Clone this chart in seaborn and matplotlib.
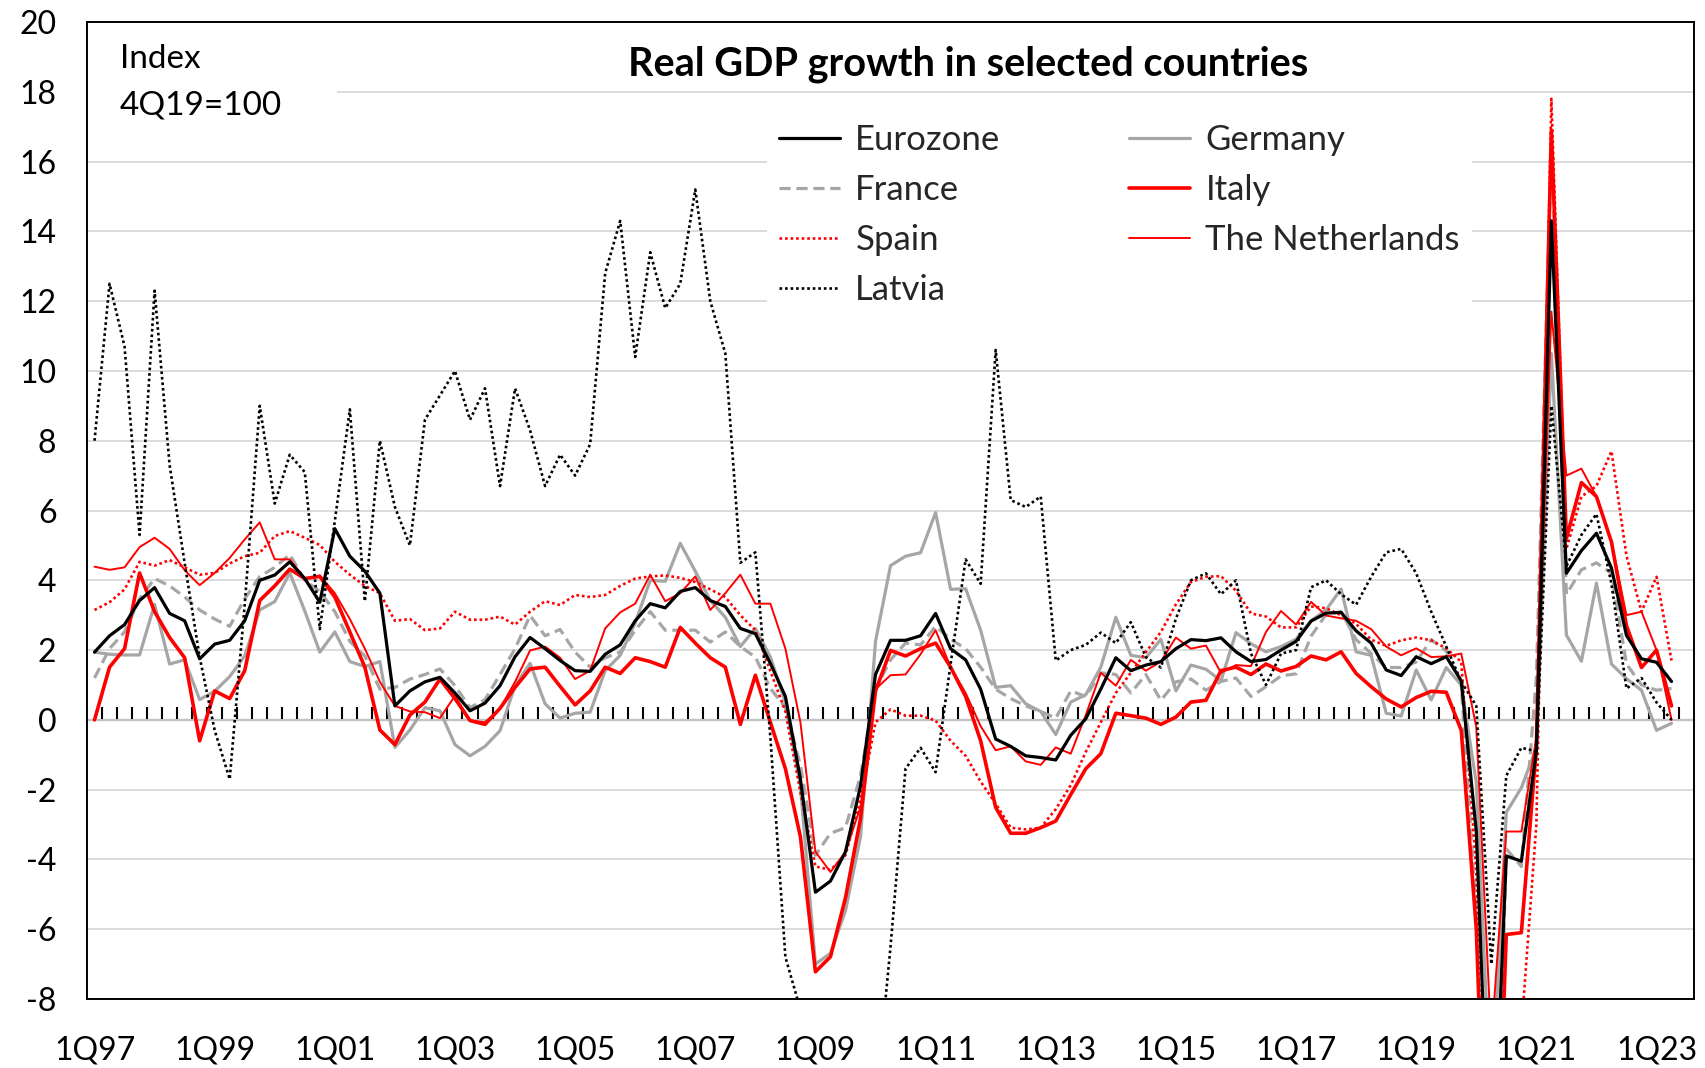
"""Real GDP growth in selected countries (y/y %, quarterly)."""

import matplotlib
matplotlib.use("Agg")

import matplotlib.pyplot as plt
import numpy as np
import pandas as pd
import seaborn as sns
from matplotlib.patches import Rectangle

# quarters 1Q97 .. 2Q23
quarters = [f"{q}Q{y % 100:02d}" for y in range(1997, 2024) for q in range(1, 5)][:106]
tick_labels = ["1Q97", "1Q99", "1Q01", "1Q03", "1Q05", "1Q07", "1Q09",
               "1Q11", "1Q13", "1Q15", "1Q17", "1Q19", "1Q21", "1Q23"]
y_ticks = [-8, -6, -4, -2, 0, 2, 4, 6, 8, 10, 12, 14, 16, 18, 20]

eurozone = [
    1.94, 2.41, 2.73, 3.42, 3.79, 3.05, 2.84, 1.75, 2.17, 2.28, 2.84, 4.0, 4.15, 4.53, 4.05, 3.37,
    5.48, 4.69, 4.26, 3.63, 0.40, 0.83, 1.09, 1.22, 0.77, 0.26, 0.48, 0.98, 1.81, 2.36, 2.04, 1.70,
    1.41, 1.39, 1.88, 2.15, 2.84, 3.33, 3.21, 3.68, 3.79, 3.42, 3.25, 2.62, 2.47, 1.62, 0.67, -1.7,
    -4.94, -4.62, -3.78, -1.9, 1.30, 2.28, 2.28, 2.41, 3.05, 2.04, 1.72, 0.88, -0.55, -0.76, -1.03, -1.08,
    -1.15, -0.44, 0.03, 0.88, 1.78, 1.41, 1.57, 1.67, 2.04, 2.30, 2.27, 2.35, 1.95, 1.67, 1.73, 2.0,
    2.25, 2.83, 3.06, 3.08, 2.55, 2.2, 1.43, 1.27, 1.81, 1.61, 1.81, 1.12, -3.2, -14.4, -3.9, -4.05,
    -0.9, 14.3, 4.2, 4.85, 5.35, 4.35, 2.42, 1.75, 1.65, 1.1,
]
germany = [
    1.94, 1.88, 1.86, 1.86, 3.31, 1.60, 1.72, 0.58, 0.82, 1.24, 1.83, 3.15, 3.39, 4.21, 3.12, 1.94,
    2.52, 1.67, 1.53, 1.67, -0.79, -0.29, 0.35, 0.26, -0.71, -1.03, -0.76, -0.31, 0.98, 1.62, 0.46, 0.05,
    0.19, 0.22, 1.41, 1.85, 2.78, 4.0, 3.97, 5.06, 4.26, 3.42, 2.94, 2.10, 2.62, 1.8, 0.5, -1.9,
    -7.0, -6.69, -5.47, -3.35, 2.25, 4.42, 4.69, 4.79, 5.94, 3.74, 3.76, 2.57, 0.93, 0.98, 0.46, 0.24,
    -0.42, 0.51, 0.72, 1.51, 2.94, 1.85, 1.78, 2.31, 0.83, 1.57, 1.45, 1.12, 2.5, 2.18, 1.95, 2.1,
    2.31, 2.84, 3.15, 3.75, 1.95, 1.85, 0.19, 0.11, 1.43, 0.57, 1.5, 1.0, -1.8, -11.2, -2.65, -1.95,
    -0.8, 10.5, 2.43, 1.68, 3.92, 1.6, 1.18, 0.85, -0.3, -0.1,
]
france = [
    1.2, 2.04, 2.52, 3.47, 4.05, 3.84, 3.52, 3.15, 2.89, 2.68, 3.47, 4.11, 4.37, 4.74, 4.0, 3.68,
    3.10, 2.25, 1.83, 0.88, 0.93, 1.17, 1.30, 1.46, 0.98, 0.35, 0.58, 1.30, 2.04, 2.99, 2.41, 2.59,
    1.94, 1.51, 1.78, 1.94, 2.57, 3.10, 2.57, 2.57, 2.57, 2.23, 2.52, 2.1, 1.8, 0.9, 0.35, -1.3,
    -3.88, -3.25, -3.09, -1.6, 0.88, 1.72, 2.20, 2.15, 2.68, 2.31, 2.04, 1.51, 0.88, 0.61, 0.40, 0.24,
    0.05, 0.83, 0.67, 1.35, 1.30, 0.77, 1.30, 0.56, 1.09, 1.17, 0.85, 1.1, 1.2, 0.67, 0.95, 1.26,
    1.32, 2.4, 3.02, 3.1, 2.3, 1.9, 1.5, 1.5, 1.66, 2.3, 1.97, 1.0, -5.6, -18.6, -3.7, -4.2,
    1.2, 16.5, 3.6, 4.3, 4.5, 4.2, 1.6, 1.0, 0.85, 0.9,
]
spain = [
    3.15, 3.37, 3.74, 4.53, 4.42, 4.58, 4.37, 4.16, 4.21, 4.48, 4.69, 4.79, 5.27, 5.41, 5.22, 5.01,
    4.53, 4.16, 3.84, 3.63, 2.84, 2.89, 2.57, 2.62, 3.10, 2.87, 2.87, 2.96, 2.73, 3.10, 3.40, 3.29,
    3.58, 3.52, 3.58, 3.84, 4.05, 4.11, 4.14, 4.07, 3.95, 3.74, 3.52, 3.0, 2.57, 1.4, 0.24, -2.08,
    -4.2, -4.3, -3.88, -2.3, -0.07, 0.30, 0.12, 0.12, -0.02, -0.6, -1.03, -1.77, -2.4, -3.09, -3.14, -3.09,
    -2.56, -1.87, -0.92, -0.07, 0.77, 1.35, 1.94, 2.52, 3.31, 3.95, 4.1, 4.12, 3.7, 3.05, 2.96, 2.65,
    2.65, 3.25, 3.2, 3.0, 2.75, 2.3, 2.12, 2.28, 2.36, 2.28, 2.05, 1.66, -4.3, -21.5, -8.7, -8.9,
    -3.0, 17.8, 4.9, 6.4, 6.7, 7.7, 4.7, 3.1, 4.1, 1.7,
]
italy = [
    0.0, 1.51, 2.04, 4.21, 3.10, 2.36, 1.78, -0.60, 0.83, 0.61, 1.41, 3.42, 3.84, 4.32, 4.05, 4.11,
    3.52, 2.52, 1.51, -0.29, -0.71, 0.14, 0.51, 1.17, 0.61, -0.02, -0.13, 0.33, 0.93, 1.46, 1.51, 0.96,
    0.43, 0.83, 1.51, 1.33, 1.78, 1.67, 1.51, 2.65, 2.20, 1.78, 1.51, -0.13, 1.28, -0.07, -1.40, -3.35,
    -7.22, -6.79, -5.10, -2.83, 0.83, 1.99, 1.83, 2.04, 2.20, 1.51, 0.67, -0.60, -2.51, -3.25, -3.25, -3.09,
    -2.9, -2.14, -1.40, -0.97, 0.19, 0.12, 0.05, -0.13, 0.08, 0.51, 0.56, 1.41, 1.51, 1.3, 1.6, 1.4,
    1.53, 1.83, 1.72, 1.95, 1.33, 0.95, 0.6, 0.37, 0.64, 0.82, 0.79, -0.3, -6.0, -18.0, -6.15, -6.1,
    -0.8, 16.9, 5.2, 6.8, 6.4, 5.1, 2.7, 1.5, 2.0, 0.4,
]
netherlands = [
    4.39, 4.30, 4.37, 4.95, 5.22, 4.90, 4.29, 3.86, 4.21, 4.64, 5.17, 5.66, 4.60, 4.60, 4.05, 4.14,
    3.63, 2.89, 2.04, 1.09, 0.40, 0.24, 0.22, 0.05, 0.69, -0.02, -0.07, 0.33, 1.09, 1.99, 2.10, 1.78,
    1.17, 1.41, 2.62, 3.08, 3.33, 4.16, 3.40, 3.63, 4.11, 3.15, 3.63, 4.16, 3.33, 3.33, 2.04, -0.07,
    -3.78, -4.36, -3.78, -2.5, 0.88, 1.28, 1.30, 1.88, 2.57, 1.51, 0.77, -0.18, -0.87, -0.76, -1.19, -1.29,
    -0.79, -0.97, 0.14, 1.35, 0.98, 1.72, 1.41, 1.67, 2.36, 2.04, 2.13, 1.35, 1.57, 1.54, 2.52, 3.12,
    2.73, 3.38, 2.99, 2.91, 2.84, 2.6, 2.1, 1.85, 2.05, 1.8, 1.82, 1.9, -0.2, -9.2, -3.2, -3.2,
    -0.5, 11.7, 7.0, 7.2, 6.4, 5.1, 3.0, 3.1, 2.0, 0.0,
]
latvia = [
    8.0, 12.5, 10.7, 5.3, 12.3, 7.3, 4.5, 1.8, -0.3, -1.7, 3.3, 9.0, 6.2, 7.6, 7.1, 2.6,
    5.7, 8.9, 3.4, 8.0, 6.1, 5.0, 8.6, 9.3, 10.0, 8.6, 9.5, 6.7, 9.5, 8.3, 6.7, 7.6,
    7.0, 7.9, 12.8, 14.3, 10.4, 13.4, 11.8, 12.5, 15.2, 12.0, 10.5, 4.5, 4.8, -0.5, -6.8, -8.3,
    -16.0, -18.0, -17.5, -15.0, -11.0, -6.5, -1.4, -0.8, -1.5, 1.6, 4.6, 3.9, 10.6, 6.3, 6.1, 6.4,
    1.7, 2.0, 2.15, 2.5, 2.2, 2.8, 1.8, 1.5, 2.9, 4.0, 4.2, 3.6, 4.0, 1.9, 1.0, 1.9,
    2.0, 3.8, 4.0, 3.6, 3.3, 4.1, 4.8, 4.9, 4.2, 3.1, 2.1, 1.1, 0.4, -7.0, -1.6, -0.8,
    -0.9, 9.0, 4.4, 5.3, 5.9, 3.9, 0.9, 1.2, 0.5, 0.0,
]

series = {
    "Eurozone": eurozone,
    "Germany": germany,
    "France": france,
    "Italy": italy,
    "Spain": spain,
    "The Netherlands": netherlands,
    "Latvia": latvia,
}
styles = {
    "Eurozone": dict(color="black", lw=2.3, ls="-"),
    "Germany": dict(color="#A6A6A6", lw=2.3, ls="-"),
    "France": dict(color="#A6A6A6", lw=2.3, ls=(0, (3.5, 1.8))),
    "Italy": dict(color="#FF0000", lw=2.6, ls="-"),
    "Spain": dict(color="#FF0000", lw=1.9, ls=(0, (1, 1.1))),
    "The Netherlands": dict(color="#FF0000", lw=1.4, ls="-"),
    "Latvia": dict(color="black", lw=1.9, ls=(0, (1, 1.1))),
}
legend_order = ["Eurozone", "France", "Spain", "Latvia", "Germany", "Italy", "The Netherlands"]

df = pd.DataFrame({"x": np.arange(len(quarters)), "quarter": quarters, **series})

sns.set_theme(style="white")
plt.rcParams["font.family"] = ["Lato", "DejaVu Sans"]

fig = plt.figure(figsize=(17.06, 10.68), dpi=100)
ax = fig.add_axes([0.051, 0.0646, 0.942, 0.9148])

for name in series:
    st = styles[name]
    sns.lineplot(data=df, x="x", y=name, ax=ax, color=st["color"], linewidth=st["lw"],
                 linestyle=st["ls"], label=name, zorder=3 if name == "Eurozone" else 2)

ax.set_xlim(-0.5, len(quarters) + 0.5)
ax.set_ylim(-8, 20)
ax.set_xlabel("")
ax.set_ylabel("")
ax.set_xticks(df["x"][::8], tick_labels)
ax.set_yticks(y_ticks, [str(v) for v in y_ticks])
ax.tick_params(axis="x", length=0, pad=26, labelsize=23, colors="black")
ax.tick_params(axis="y", length=0, pad=22, labelsize=23, colors="black")
ax.set_axisbelow(True)
ax.yaxis.grid(True, color="#D9D9D9", linewidth=1.3)
ax.xaxis.grid(False)
for sp in ax.spines.values():
    sp.set_visible(True)
    sp.set_color("black")
    sp.set_linewidth(1.4)

# zero line with quarter tick marks
zero = ax.secondary_xaxis(0, transform=ax.transData)
zero.set_xticks(df["x"] + 0.5, [""] * len(quarters))
zero.tick_params(axis="x", which="major", bottom=True, top=False, direction="in",
                 length=9.5, width=1.5, color="black")
for sp in zero.spines.values():
    sp.set_linewidth(1.5)
    sp.set_color("black")

# white box behind the unit note
ax.add_patch(Rectangle((0, 0.875), 0.1556, 0.12, transform=ax.transAxes,
                       facecolor="white", edgecolor="none", zorder=1))
ax.text(0.0205, 0.962, "Index", transform=ax.transAxes, ha="left", va="center",
        fontsize=24, color="black", zorder=4)
ax.text(0.0205, 0.915, "4Q19=100", transform=ax.transAxes, ha="left", va="center",
        fontsize=24, color="black", zorder=4)
ax.text(0.548, 0.957, "Real GDP growth in selected countries", transform=ax.transAxes,
        ha="center", va="center", fontsize=28.5, fontweight="bold", color="black", zorder=4)

handles, labels = ax.get_legend_handles_labels()
hmap = dict(zip(labels, handles))
leg = ax.legend([hmap[n] for n in legend_order], legend_order, ncol=2, loc="upper left",
                bbox_to_anchor=(0.423, 0.908), frameon=True, fancybox=False, framealpha=1,
                facecolor="white", edgecolor="none", fontsize=25, handlelength=1.75,
                handletextpad=0.45, columnspacing=3.7, labelspacing=0.52, borderpad=0.35,
                borderaxespad=0)
leg.set_zorder(5)

fig.savefig("out.png", dpi=100)
plt.close(fig)
